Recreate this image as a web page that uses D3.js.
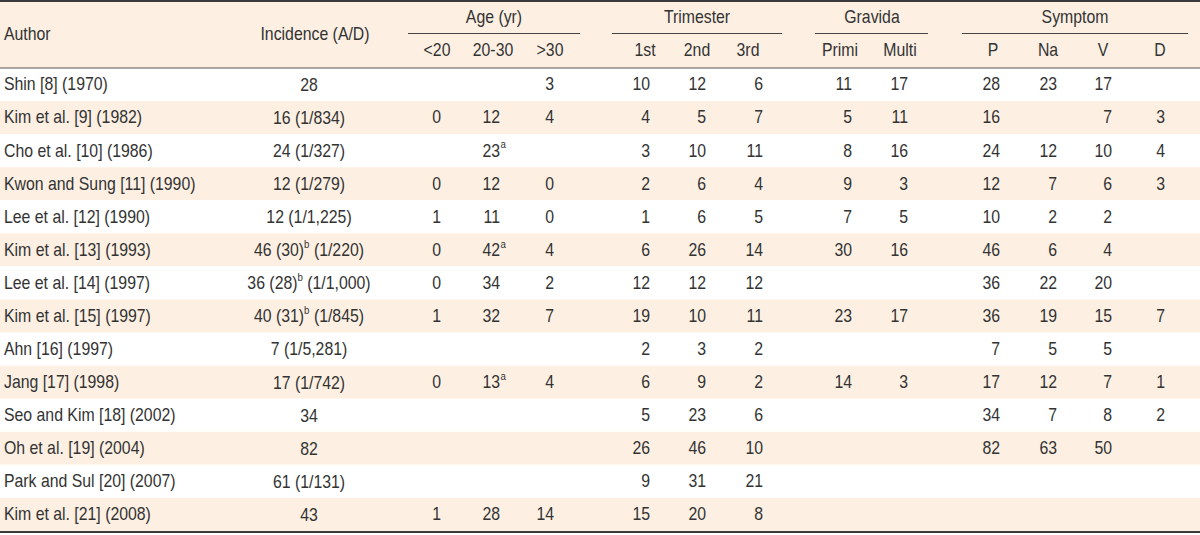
<!DOCTYPE html>
<html>
<head>
<meta charset="utf-8">
<script src="https://cdn.jsdelivr.net/npm/d3@7"></script>
<style>
  html, body { margin: 0; padding: 0; background: #fff; }
  svg { display: block; }
  text { font-family: "Liberation Sans", Arial, sans-serif; fill: #333; }
</style>
</head>
<body>
<svg id="chart" width="1200" height="535"></svg>
<script>
// ---- data ----
const authors = ["Shin [8] (1970)", "Kim et al. [9] (1982)", "Cho et al. [10] (1986)", "Kwon and Sung [11] (1990)",
  "Lee et al. [12] (1990)", "Kim et al. [13] (1993)", "Lee et al. [14] (1997)", "Kim et al. [15] (1997)",
  "Ahn [16] (1997)", "Jang [17] (1998)", "Seo and Kim [18] (2002)", "Oh et al. [19] (2004)",
  "Park and Sul [20] (2007)", "Kim et al. [21] (2008)"];
const incidence = ["28", "16 (1/834)", "24 (1/327)", "12 (1/279)", "12 (1/1,225)", "46 (30)^b (1/220)",
  "36 (28)^b (1/1,000)", "40 (31)^b (1/845)", "7 (1/5,281)", "17 (1/742)", "34", "82", "61 (1/131)", "43"];
const ageUnder20 = ["", "0", "", "0", "1", "0", "0", "1", "", "0", "", "", "", "1"];
const age20to30 = ["", "12", "23^a", "12", "11", "42^a", "34", "32", "", "13^a", "", "", "", "28"];
const ageOver30 = ["3", "4", "", "0", "0", "4", "2", "7", "", "4", "", "", "", "14"];
const trimester1 = ["10", "4", "3", "2", "1", "6", "12", "19", "2", "6", "5", "26", "9", "15"];
const trimester2 = ["12", "5", "10", "6", "6", "26", "12", "10", "3", "9", "23", "46", "31", "20"];
const trimester3 = ["6", "7", "11", "4", "5", "14", "12", "11", "2", "2", "6", "10", "21", "8"];
const gravidaPrimi = ["11", "5", "8", "9", "7", "30", "", "23", "", "14", "", "", "", ""];
const gravidaMulti = ["17", "11", "16", "3", "5", "16", "", "17", "", "3", "", "", "", ""];
const symptomP = ["28", "16", "24", "12", "10", "46", "36", "36", "7", "17", "34", "82", "", ""];
const symptomNa = ["23", "", "12", "7", "2", "6", "22", "19", "5", "12", "7", "63", "", ""];
const symptomV = ["17", "7", "10", "6", "2", "4", "20", "15", "5", "7", "8", "50", "", ""];
const symptomD = ["", "3", "4", "3", "", "", "", "7", "", "1", "2", "", "", ""];

const groupLabels = ["Age (yr)", "Trimester", "Gravida", "Symptom"];
const subLabels = ["<20", "20-30", ">30", "1st", "2nd", "3rd", "Primi", "Multi", "P", "Na", "V", "D"];
const numericCols = [ageUnder20, age20to30, ageOver30, trimester1, trimester2, trimester3,
  gravidaPrimi, gravidaMulti, symptomP, symptomNa, symptomV, symptomD];

// ---- layout scales ----
const W = 1200;
const headerTop = 2, headerBottom = 68, bodyBottom = 531;
const svg = d3.select("#chart");

const rowY = d3.scaleBand().domain(d3.range(authors.length)).range([headerBottom, bodyBottom]);
const subHeadX = d3.scaleOrdinal().domain(subLabels)
  .range([437, 493, 550, 645, 697, 748, 840, 900, 993, 1048, 1103, 1160]);
const valueRightX = d3.scaleOrdinal().domain(subLabels)
  .range([441, 500, 554, 650, 706, 763, 852, 908, 1000, 1057, 1112, 1165]);
const groupX = d3.scaleOrdinal().domain(groupLabels)
  .range([[408, 580], [612, 782], [815, 928], [962, 1188]]);
const groupCenter = d3.scaleOrdinal().domain(groupLabels).range([494, 697, 872, 1075]);

const FS = 18, SX = 0.88, beige = "#fdf0e3";

function txt(parent, x, y, anchor, size) {
  return parent.append("text")
    .attr("transform", `translate(${x},${y}) scale(${SX},1)`)
    .attr("text-anchor", anchor)
    .attr("dominant-baseline", "central")
    .attr("font-size", size || FS);
}

// header background
svg.append("rect").attr("x", 0).attr("y", headerTop).attr("width", W).attr("height", headerBottom - headerTop)
  .attr("fill", beige);

// body row backgrounds
svg.selectAll("rect.row").data(d3.range(authors.length)).join("rect")
  .attr("class", "row")
  .attr("x", 0).attr("width", W)
  .attr("y", i => rowY(i)).attr("height", rowY.bandwidth())
  .attr("fill", i => i % 2 === 1 ? beige : "#ffffff");

// rules
svg.append("line").attr("x1", 0).attr("x2", W).attr("y1", 1).attr("y2", 1).attr("stroke", "#3a3a3a").attr("stroke-width", 2);
svg.append("line").attr("x1", 0).attr("x2", W).attr("y1", headerBottom).attr("y2", headerBottom).attr("stroke", "#555").attr("stroke-width", 1);
svg.append("line").attr("x1", 0).attr("x2", W).attr("y1", bodyBottom + 1).attr("y2", bodyBottom + 1).attr("stroke", "#3a3a3a").attr("stroke-width", 2);

// group headers
const gh = svg.append("g");
groupLabels.forEach(g => {
  const [a, b] = groupX(g);
  gh.append("line").attr("x1", a).attr("x2", b).attr("y1", 33.5).attr("y2", 33.5).attr("stroke", "#444").attr("stroke-width", 1);
  txt(gh, groupCenter(g), 17, "middle").text(g);
});
subLabels.forEach(s => txt(gh, subHeadX(s), 50, "middle").text(s));
txt(gh, 4, 34, "start").text("Author");
txt(gh, 315, 34, "middle").text("Incidence (A/D)");

// body
const body = svg.append("g");
const cy = i => rowY(i) + rowY.bandwidth() / 2;

authors.forEach((a, i) => txt(body, 4, cy(i), "start").text(a));

// incidence with inline superscripts
incidence.forEach((v, i) => {
  const t = txt(body, 309, cy(i), "middle");
  const parts = v.split(/\^(\w)/);
  let shiftBack = false;
  parts.forEach((p, k) => {
    if (k % 2 === 0) {
      if (!p) return;
      const s = t.append("tspan").text(p);
      if (shiftBack) { s.attr("dy", 6); shiftBack = false; }
    } else {
      t.append("tspan").attr("font-size", 11).attr("dy", -6).text(p);
      shiftBack = true;
    }
  });
});

// numeric columns
numericCols.forEach((col, c) => {
  const key = subLabels[c];
  col.forEach((v, i) => {
    if (!v) return;
    const [main, sup] = v.split("^");
    txt(body, valueRightX(key), cy(i), "end").text(main);
    if (sup) txt(body, valueRightX(key) + 0.5, cy(i) - 6, "start", 11).text(sup);
  });
});
</script>
</body>
</html>
